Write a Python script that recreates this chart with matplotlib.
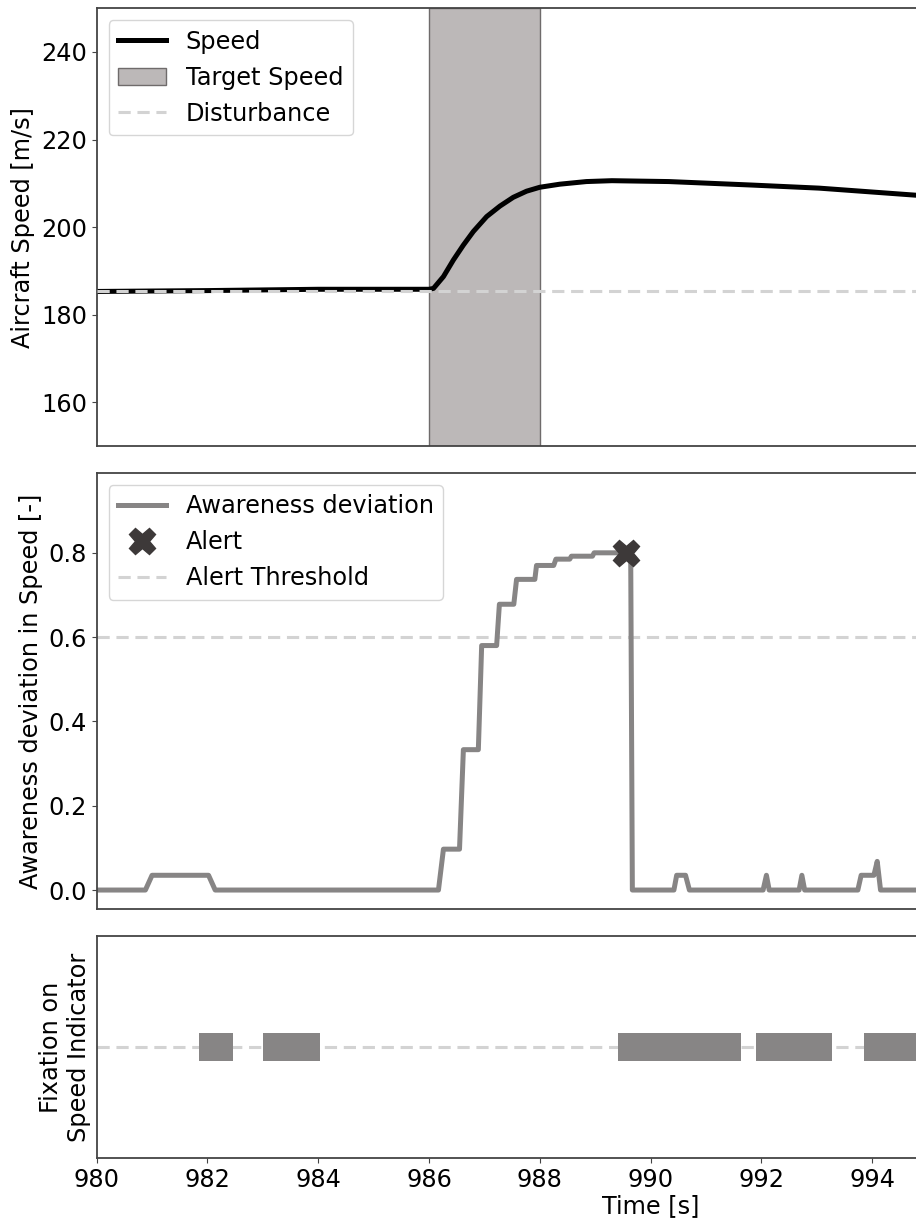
import matplotlib
matplotlib.use("Agg")
import matplotlib.pyplot as plt

# speed trace
speed_t = [980.0, 982.0, 984.0, 986.0, 986.08, 986.26, 986.44, 986.62, 986.80, 987.04,
           987.28, 987.52, 987.76, 988.0, 988.36, 988.84, 989.3, 989.81, 990.33, 991.83,
           993.04, 994.77, 995.5]
speed_v = [185.3, 185.5, 185.8, 185.8, 186.0, 188.7, 192.5, 195.9, 199.0, 202.4,
           204.8, 206.8, 208.2, 209.1, 209.8, 210.4, 210.6, 210.5, 210.4, 209.6,
           208.9, 207.3, 206.8]
target_window = (986.0, 988.0)
disturbance = 185.5

# awareness deviation (step-like trace)
aw_t = [980.0, 980.88, 981.0, 982.02, 982.14, 986.17, 986.26, 986.55, 986.62, 986.89,
        986.95, 987.22, 987.27, 987.53, 987.58, 987.91, 987.94, 988.25, 988.29, 988.54,
        988.57, 988.95, 988.98, 989.64, 989.67, 990.42, 990.47, 990.63, 990.7, 992.03,
        992.09, 992.14, 992.68, 992.73, 992.78, 993.74, 993.8, 994.03, 994.09, 994.15,
        1000.0]
aw_v = [0.0, 0.0, 0.035, 0.035, 0.0, 0.0, 0.097, 0.097, 0.333, 0.333,
        0.58, 0.58, 0.678, 0.678, 0.737, 0.737, 0.77, 0.77, 0.785, 0.785,
        0.792, 0.792, 0.80, 0.80, 0.0, 0.0, 0.035, 0.035, 0.0, 0.0,
        0.035, 0.0, 0.0, 0.035, 0.0, 0.0, 0.035, 0.035, 0.068, 0.0,
        0.0]
alert_t = [989.55]
alert_v = [0.80]
threshold = 0.6

# fixations on the speed indicator (start, end)
fix_start = [981.84, 983.01, 989.41, 991.9, 993.85]
fix_end = [982.46, 984.04, 991.64, 993.28, 995.3]

time_ticks = [980, 982, 984, 986, 988, 990, 992, 994]

FS = 17.3
plt.rcParams["font.family"] = ["DejaVu Sans"]
plt.rcParams["font.size"] = FS

spine_col = "#444444"
light = "#d3d3d3"
gray = "#878585"

fig = plt.figure(figsize=(9.16, 12.19), dpi=100)
left, width = 0.1055, 1.2096
ax1 = fig.add_axes([left, 0.6341, width, 0.3592])
ax2 = fig.add_axes([left, 0.2543, width, 0.3579])
ax3 = fig.add_axes([left, 0.0500, width, 0.1821])

for ax in (ax1, ax2, ax3):
    ax.set_xlim(980, 1000)
    for s in ax.spines.values():
        s.set_color(spine_col)
        s.set_linewidth(1.3)
    ax.tick_params(labelsize=FS, color=spine_col)

# --- speed panel
ax1.plot(speed_t, speed_v, color="black", lw=3.6, label="Speed", zorder=2,
         solid_joinstyle="round")
ax1.axvspan(*target_window, facecolor="#bcb8b8", edgecolor="#6f6b6b", lw=1.0,
            label="Target Speed", zorder=1)
ax1.axhline(disturbance, color=light, lw=2.2, ls=(0, (4, 2.2)), label="Disturbance", zorder=3)
ax1.set_ylim(150, 250)
ax1.set_yticks([160, 180, 200, 220, 240])
ax1.set_ylabel("Aircraft Speed [m/s]", fontsize=FS)
ax1.tick_params(axis="x", bottom=False, labelbottom=False)
ax1.legend(loc="upper left", fontsize=FS)

# --- awareness panel
ax2.plot(aw_t, aw_v, color=gray, lw=3.6, label="Awareness deviation", zorder=2)
ax2.plot(alert_t, alert_v, ls="none", marker="X", ms=19, color="#3d3939",
         label="Alert", zorder=4)
ax2.axhline(threshold, color=light, lw=2.2, ls=(0, (4, 2.2)), label="Alert Threshold", zorder=1)
ax2.set_ylim(-0.045, 0.99)
ax2.set_yticks([0.0, 0.2, 0.4, 0.6, 0.8])
ax2.set_ylabel("Awareness deviation in Speed [-]", fontsize=FS)
ax2.tick_params(axis="x", bottom=False, labelbottom=False)
ax2.legend(loc="upper left", fontsize=FS)

# --- fixation panel
ax3.axhline(1.0, color=light, lw=2.2, ls=(0, (4, 2.2)), zorder=1)
ax3.broken_barh([(s, e - s) for s, e in zip(fix_start, fix_end)], (0.875, 0.25),
                facecolor=gray, zorder=2)
ax3.set_ylim(0, 2)
ax3.set_yticks([])
ax3.set_xticks(time_ticks)
ax3.set_ylabel("Fixation on\nSpeed Indicator", fontsize=FS)
ax3.set_xlabel("Time [s]", fontsize=FS, labelpad=2)

fig.savefig("out.png", dpi=100)
